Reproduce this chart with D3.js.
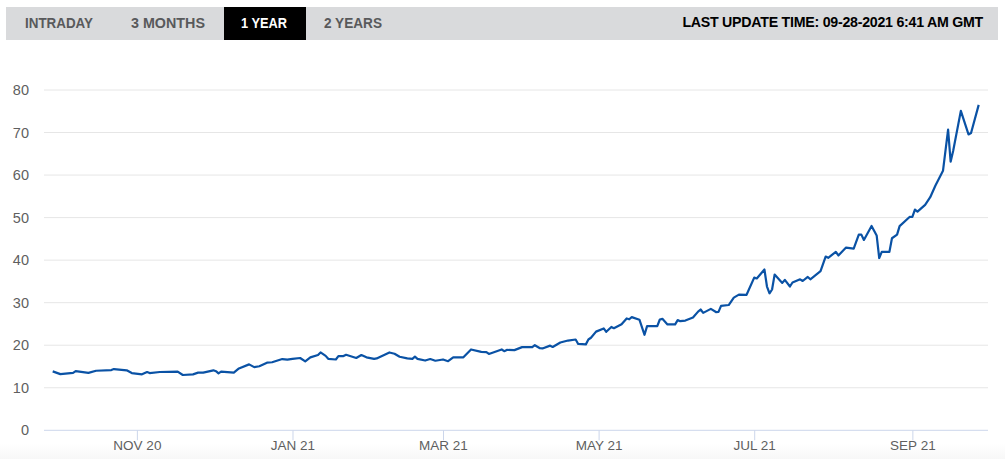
<!DOCTYPE html>
<html>
<head>
<meta charset="utf-8">
<script src="https://cdn.jsdelivr.net/npm/d3@7"></script>
<style>
html, body { margin: 0; padding: 0; background: #fff; overflow: hidden; }
svg { display: block; }
text { font-family: "Liberation Sans", Arial, sans-serif; }
.tab { font-size: 14px; font-weight: bold; fill: #58595b; }
.tab.active { fill: #fff; }
.updated { font-size: 14.2px; font-weight: bold; fill: #000; letter-spacing: -0.25px; }
.axis text { font-size: 13.5px; fill: #5f5f5f; }
.y.axis text { font-size: 14.5px; }
.grid line { stroke: #e6e6e6; }
.x.axis path, .x.axis line { stroke: #ccd6eb; }
.price { fill: none; stroke: #0a52a5; stroke-width: 2.2; stroke-linejoin: round; }
</style>
</head>
<body>
<svg id="chart" width="1005" height="459"></svg>
<script>
var tabLabels = ["INTRADAY", "3 MONTHS", "1 YEAR", "2 YEARS"];
var activeTab = "1 YEAR";
var updateLabel = "LAST UPDATE TIME: 09-28-2021 6:41 AM GMT";

var yTicks = [0, 10, 20, 30, 40, 50, 60, 70, 80];
var xTicks = ["2020-11-01", "2021-01-01", "2021-03-01", "2021-05-01", "2021-07-01", "2021-09-01"];

var dates = [
  "2020-09-29","2020-10-02","2020-10-07","2020-10-08","2020-10-13","2020-10-16","2020-10-22","2020-10-23","2020-10-28","2020-10-30",
  "2020-11-03","2020-11-05","2020-11-06","2020-11-10","2020-11-17","2020-11-19","2020-11-23","2020-11-25","2020-11-27",
  "2020-12-01","2020-12-02","2020-12-03","2020-12-04","2020-12-09","2020-12-11","2020-12-15","2020-12-17","2020-12-19","2020-12-22","2020-12-24","2020-12-28","2020-12-30",
  "2021-01-01","2021-01-04","2021-01-06","2021-01-08","2021-01-11","2021-01-12","2021-01-14","2021-01-15","2021-01-18","2021-01-19","2021-01-21","2021-01-22","2021-01-26","2021-01-28","2021-01-30",
  "2021-02-02","2021-02-03","2021-02-08","2021-02-10","2021-02-12","2021-02-15","2021-02-17","2021-02-18","2021-02-19","2021-02-22","2021-02-24","2021-02-26",
  "2021-03-01","2021-03-03","2021-03-05","2021-03-09","2021-03-12","2021-03-16","2021-03-18","2021-03-19","2021-03-24","2021-03-25","2021-03-26","2021-03-29",
  "2021-04-01","2021-04-05","2021-04-06","2021-04-08","2021-04-09","2021-04-12","2021-04-13","2021-04-16","2021-04-19","2021-04-22","2021-04-23","2021-04-26","2021-04-27","2021-04-28","2021-04-30",
  "2021-05-03","2021-05-04","2021-05-06","2021-05-07","2021-05-10","2021-05-12","2021-05-13","2021-05-14","2021-05-17","2021-05-19","2021-05-20","2021-05-24","2021-05-25","2021-05-26","2021-05-28","2021-05-31",
  "2021-06-01","2021-06-02","2021-06-04","2021-06-07","2021-06-09","2021-06-10","2021-06-11","2021-06-14","2021-06-16","2021-06-17","2021-06-18","2021-06-21","2021-06-23","2021-06-25","2021-06-28",
  "2021-07-01","2021-07-02","2021-07-05","2021-07-06","2021-07-07","2021-07-08","2021-07-09","2021-07-12","2021-07-13","2021-07-15","2021-07-16","2021-07-19","2021-07-20","2021-07-22","2021-07-23","2021-07-27","2021-07-29","2021-07-30",
  "2021-08-02","2021-08-03","2021-08-06","2021-08-09","2021-08-11","2021-08-12","2021-08-13","2021-08-16","2021-08-18","2021-08-19","2021-08-20","2021-08-23","2021-08-24","2021-08-26","2021-08-27","2021-08-31",
  "2021-09-01","2021-09-02","2021-09-03","2021-09-06","2021-09-08","2021-09-10","2021-09-13","2021-09-15","2021-09-16","2021-09-17","2021-09-20","2021-09-23","2021-09-24","2021-09-27"
];

var prices = [
  13.85,13.2,13.5,13.9,13.5,14.0,14.15,14.4,14.1,13.45,
  13.15,13.7,13.45,13.7,13.8,13.0,13.15,13.55,13.55,
  14.1,13.9,13.4,13.8,13.55,14.55,15.5,14.85,15.05,15.9,16.0,16.75,16.6,
  16.8,17.0,16.2,17.15,17.7,18.3,17.5,16.8,16.65,17.45,17.45,17.75,17.0,17.7,17.15,
  16.8,16.9,18.3,18.0,17.3,16.9,16.8,17.3,16.8,16.4,16.75,16.35,
  16.65,16.25,17.15,17.15,19.0,18.45,18.4,17.95,19.0,18.6,18.9,18.85,
  19.55,19.55,20.0,19.3,19.25,19.9,19.6,20.65,21.1,21.35,20.3,20.2,21.35,21.75,23.2,
  23.95,23.15,24.3,24.0,24.95,26.3,26.1,26.6,26.0,22.45,24.5,24.5,26.05,26.2,24.9,24.9,
  25.9,25.65,25.8,26.5,27.9,28.4,27.6,28.55,27.8,27.85,29.25,29.45,31.2,31.9,31.85,
  35.9,35.7,37.8,33.8,32.2,33.1,36.6,34.65,35.35,33.8,34.75,35.5,35.1,36.05,35.5,37.4,40.85,40.55,
  41.95,41.1,42.95,42.7,46.0,46.0,44.75,48.05,45.8,40.5,41.95,41.95,45.15,46.0,48.0,50.2,
  50.15,51.9,51.4,53.0,54.8,57.5,61.0,70.7,63.15,65.7,75.1,69.55,69.9,76.5
];

const width = 1005, height = 459;
const plot = { left: 44, right: 988, top: 90, bottom: 430.3 };
const lineLeft = 52.7, lineRight = 978.7;

var parseDate = d3.utcParse("%Y-%m-%d");
var series = dates.map((d, i) => ({ date: parseDate(d), value: prices[i] }));

var x = d3.scaleUtc()
    .domain(d3.extent(series, d => d.date))
    .range([lineLeft, lineRight]);

var y = d3.scaleLinear()
    .domain([0, 80])
    .range([plot.bottom, plot.top]);

var svg = d3.select("#chart");

// faint fade at the very bottom of the page
var fade = svg.append("defs").append("linearGradient")
    .attr("id", "fade").attr("x1", 0).attr("x2", 0).attr("y1", 0).attr("y2", 1);
fade.append("stop").attr("offset", 0).attr("stop-color", "#fff");
fade.append("stop").attr("offset", 1).attr("stop-color", "#f7f7f7");
svg.append("rect")
    .attr("x", 0).attr("y", 443).attr("width", width).attr("height", height - 443)
    .attr("fill", "url(#fade)");

/* Header bar */
var header = svg.append("g");
header.append("rect")
    .attr("x", 6).attr("y", 7).attr("width", 992).attr("height", 33)
    .attr("fill", "#d9dadc");

var tabStart = { "INTRADAY": 25, "3 MONTHS": 131, "1 YEAR": 241, "2 YEARS": 324 };
var tabWidth = { "INTRADAY": 68, "3 MONTHS": 74, "1 YEAR": 46, "2 YEARS": 58 };

header.append("rect")
    .attr("x", 224).attr("y", 7).attr("width", 82).attr("height", 33)
    .attr("fill", "#000");

header.selectAll("text.tab")
    .data(tabLabels)
    .enter()
    .append("text")
    .attr("class", d => d === activeTab ? "tab active" : "tab")
    .attr("x", d => tabStart[d])
    .attr("y", 28)
    .attr("textLength", d => tabWidth[d])
    .attr("lengthAdjust", "spacingAndGlyphs")
    .text(d => d);

header.append("text")
    .attr("class", "updated")
    .attr("text-anchor", "end")
    .attr("x", 983)
    .attr("y", 27)
    .text(updateLabel);

/* Axes */
var yAxis = d3.axisLeft(y)
    .tickValues(yTicks)
    .tickSize(0)
    .tickPadding(15);

svg.append("g")
    .attr("class", "y axis")
    .attr("transform", "translate(" + plot.left + ",0)")
    .call(yAxis)
    .call(g => g.select(".domain").remove());

svg.append("g")
    .attr("class", "grid")
    .selectAll("line")
    .data(yTicks.filter(d => d > 0))
    .enter()
    .append("line")
    .attr("x1", plot.left)
    .attr("x2", plot.right)
    .attr("y1", d => y(d))
    .attr("y2", d => y(d));

var xAxis = d3.axisBottom(x)
    .tickValues(xTicks.map(parseDate))
    .tickSize(10)
    .tickSizeOuter(0)
    .tickPadding(0)
    .tickFormat(d => d3.utcFormat("%b %y")(d).toUpperCase());

svg.append("g")
    .attr("class", "x axis")
    .attr("transform", "translate(0," + plot.bottom + ")")
    .call(xAxis)
    .call(g => g.select(".domain").attr("d", "M" + plot.left + ",0H" + plot.right));

/* Line */
var line = d3.line()
    .x(d => x(d.date))
    .y(d => y(d.value));

svg.append("path")
    .datum(series)
    .attr("class", "price")
    .attr("d", line);
</script>
</body>
</html>
